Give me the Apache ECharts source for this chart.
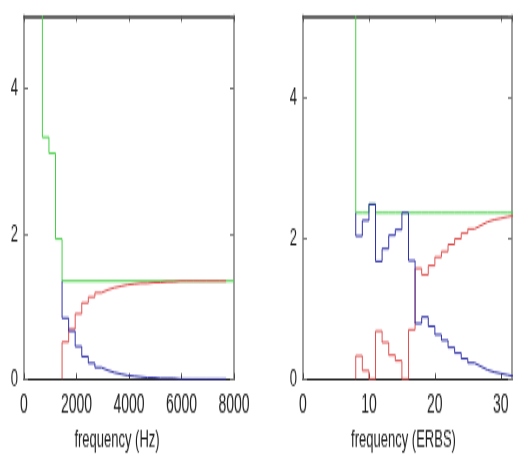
<!DOCTYPE html>
<html><head><meta charset="utf-8">
<script src="https://cdn.jsdelivr.net/npm/echarts@6/dist/echarts.min.js"></script>
<style>
html,body{margin:0;padding:0;background:#fff;overflow:hidden;}
#wrap{width:513px;height:466px;overflow:hidden;}
#c{width:513px;height:245px;transform:scaleY(1.902);transform-origin:0 0;}
</style></head>
<body><div id="wrap"><div id="c"></div></div>
<script>
// ---- data ----
const hzTickLabels = ['0', '2000', '4000', '6000', '8000'];
const erbTickLabels = ['0', '10', '20', '30'];

// left panel: frequency in Hz
const hzGreenEdges = [700, 950, 1200, 1450, 8000];
const hzGreenValues = [3.33, 3.11, 1.93, 1.35];
const hzGreenStart = 9; // off-scale value entering from above
const hzSplitEdges = [1450, 1700, 1950, 2200, 2450, 2700, 2950, 3200, 3450, 3700, 3950, 4200, 4450,
  4700, 4950, 5200, 5450, 5700, 5950, 6200, 6450, 6700, 6950, 7200, 7450, 7700];
const hzRedValues = [0.51, 0.69, 0.90, 1.05, 1.13, 1.19, 1.23, 1.26, 1.28, 1.30, 1.31, 1.32, 1.32,
  1.33, 1.33, 1.34, 1.34, 1.35, 1.35, 1.35, 1.35, 1.35, 1.35, 1.35, 1.35];
const hzRedStart = 0;
const hzBlueValues = [0.84, 0.66, 0.45, 0.31, 0.22, 0.16, 0.12, 0.09, 0.07, 0.05, 0.04, 0.03, 0.02,
  0.02, 0.01, 0.01, 0.01, 0, 0, 0, 0, 0, 0, 0, 0];
const hzBlueStart = 1.35;

// right panel: frequency in ERBS
const erbEdges = [8, 9, 10, 11, 12, 13, 14, 15, 16, 17, 18, 19, 20, 21, 22, 23, 24, 25, 26, 27, 28, 29, 30, 31, 32];
const erbGreenValues = [2.36, 2.36, 2.48, 2.36, 2.36, 2.36, 2.36, 2.36, 2.36, 2.36, 2.36, 2.36,
  2.36, 2.36, 2.36, 2.36, 2.36, 2.36, 2.36, 2.36, 2.36, 2.36, 2.36, 2.36];
const erbGreenStart = 9;
const erbBlueValues = [2.03, 2.25, 2.48, 1.67, 1.85, 2.04, 2.12, 2.36, 1.68, 0.79, 0.88, 0.75,
  0.63, 0.55, 0.45, 0.37, 0.29, 0.23, 0.18, 0.13, 0.10, 0.08, 0.06, 0.04];
const erbBlueStart = 2.36;
const erbRedValues = [0.33, 0.12, 0, 0.68, 0.52, 0.34, 0.26, 0, 0.70, 1.57, 1.48, 1.61,
  1.73, 1.81, 1.91, 1.99, 2.07, 2.13, 2.18, 2.23, 2.26, 2.28, 2.30, 2.32];
const erbRedStart = 0;

// ---- build ----
function steps(edges, values, start) {
  const pts = [[edges[0], start]];
  values.forEach((v, i) => pts.push([edges[i], v]));
  pts.push([edges[edges.length - 1], values[values.length - 1]]);
  return pts;
}
const GREEN = '#45d045', RED = '#e05050', BLUE = '#3030a8';
const FONT = "'Liberation Sans', Arial, sans-serif";

function xAx(grid, max, interval, labels, name, pad) {
  return [{
    type: 'value', gridIndex: grid, position: 'bottom', min: 0, max: max, interval: interval,
    axisLine: { show: true, onZero: false, lineStyle: { color: '#2a2a2a', width: 1.2 } },
    axisTick: { show: true, inside: true, length: 3, lineStyle: { color: '#444' } },
    axisLabel: { margin: 7, color: '#222', fontSize: 14, fontFamily: FONT, showMaxLabel: max % interval === 0,
      formatter: v => labels[Math.round(v / interval)] !== undefined ? labels[Math.round(v / interval)] : '' },
    splitLine: { show: false },
    name: name, nameLocation: 'middle', nameGap: 25,
    nameTextStyle: { color: '#222', fontSize: 13, fontFamily: FONT, padding: pad }
  }, {
    type: 'value', gridIndex: grid, position: 'top', min: 0, max: max, interval: interval,
    axisLine: { show: true, onZero: false, lineStyle: { color: '#333', width: 1.5 } },
    axisTick: { show: true, inside: true, length: 3, lineStyle: { color: '#555' } },
    axisLabel: { show: false }, splitLine: { show: false }
  }];
}
function yAx(grid, max) {
  return [{
    type: 'value', gridIndex: grid, position: 'left', min: 0, max: max, interval: 2,
    axisLine: { show: true, onZero: false, lineStyle: { color: '#888', width: 1.6 } },
    axisTick: { show: true, inside: true, length: 4, lineStyle: { color: '#777' } },
    axisLabel: { margin: 6, color: '#222', fontSize: 13, fontFamily: FONT, showMaxLabel: false },
    splitLine: { show: false }
  }, {
    type: 'value', gridIndex: grid, position: 'right', min: 0, max: max, interval: 2,
    axisLine: { show: true, onZero: false, lineStyle: { color: '#888', width: 1.6 } },
    axisTick: { show: true, inside: true, length: 4, lineStyle: { color: '#777' } },
    axisLabel: { show: false }, splitLine: { show: false }
  }];
}
function line(xi, data, color, z) {
  return { type: 'line', xAxisIndex: xi, yAxisIndex: xi, data: data, step: 'end', symbol: 'none',
    lineStyle: { color: color, width: 1 }, z: z, silent: true };
}

const chart = echarts.init(document.getElementById('c'), null, { renderer: 'canvas' });
chart.setOption({
  animation: false,
  backgroundColor: '#fff',
  grid: [
    { left: 24, top: 8.4, width: 210, height: 190.9 },
    { left: 303, top: 8.4, width: 209, height: 190.9 }
  ],
  xAxis: [].concat(xAx(0, 8000, 2000, hzTickLabels, 'frequency (Hz)', [0, 24, 0, 0]),
                   xAx(1, 31.7, 10, erbTickLabels, 'frequency (ERBS)', [0, 8, 0, 0])),
  yAxis: [].concat(yAx(0, 5), yAx(1, 5.15)),
  series: [
    line(0, steps(hzGreenEdges, hzGreenValues, hzGreenStart), GREEN, 2),
    line(0, steps(hzSplitEdges, hzRedValues, hzRedStart), RED, 3),
    line(0, steps(hzSplitEdges, hzBlueValues, hzBlueStart), BLUE, 4),
    line(2, steps(erbEdges, erbGreenValues, erbGreenStart), GREEN, 2),
    line(2, steps(erbEdges, erbRedValues, erbRedStart), RED, 3),
    line(2, steps(erbEdges, erbBlueValues, erbBlueStart), BLUE, 4)
  ]
});
</script>
</body></html>
